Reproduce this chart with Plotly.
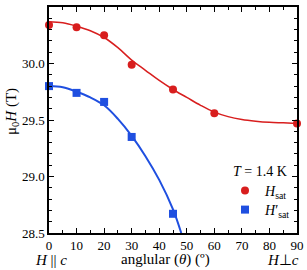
import plotly.graph_objects as go

# Measured data points
theta_hsat = [0, 10, 20, 30, 45, 60, 90]
hsat = [30.34, 30.32, 30.25, 29.99, 29.77, 29.56, 29.47]

theta_hsat2 = [0, 10, 20, 30, 45]
hsat2 = [29.80, 29.74, 29.66, 29.35, 28.67]

# Fit curves
fit_theta_red = [0, 5, 10, 15, 20, 25, 30, 35, 40, 45, 50, 55, 60, 65, 70, 75, 80, 85, 90]
fit_red = [30.37, 30.36, 30.33, 30.29, 30.23, 30.14, 30.03, 29.94, 29.85, 29.77,
           29.70, 29.63, 29.57, 29.53, 29.505, 29.49, 29.48, 29.475, 29.47]

fit_theta_blue = [0, 5, 10, 15, 20, 25, 30, 35, 40, 45, 48]
fit_blue = [29.80, 29.79, 29.75, 29.70, 29.63, 29.51, 29.36, 29.18, 28.97, 28.71, 28.50]

x_tick_vals = [0, 10, 20, 30, 40, 50, 60, 70, 80, 90]
y_tick_vals = [28.5, 29.0, 29.5, 30.0, 30.5]
y_tick_text = ["28.5", "29.0", "29.5", "30.0", "30.5"]

RED = "#d81e1e"
BLUE = "#1f4fe0"
FONT = "Liberation Serif"

# plot area geometry (pixels) used to place annotations
L, R, T, B = 49, 10, 7, 37
W, H = 307, 270
PW, PH = W - L - R, H - T - B


def px(x):
    return (x - L) / PW


def py(y):
    return (H - B - y) / PH


fig = go.Figure()
fig.add_trace(go.Scatter(x=fit_theta_red, y=fit_red, mode="lines",
                         line=dict(color=RED, width=1.5, shape="spline"),
                         showlegend=False, hoverinfo="skip"))
fig.add_trace(go.Scatter(x=fit_theta_blue, y=fit_blue, mode="lines",
                         line=dict(color=BLUE, width=2, shape="spline"),
                         showlegend=False, hoverinfo="skip"))
fig.add_trace(go.Scatter(x=theta_hsat, y=hsat, mode="markers",
                         marker=dict(symbol="circle", size=8, color=RED),
                         name="<i>H</i><sub>sat</sub>", cliponaxis=False, legend="legend"))
fig.add_trace(go.Scatter(x=theta_hsat2, y=hsat2, mode="markers",
                         marker=dict(symbol="square", size=8, color=BLUE),
                         name="<i>H</i>′<sub>sat</sub>", cliponaxis=False, legend="legend2"))

axis_common = dict(
    showgrid=False, zeroline=False, showline=True, linecolor="black", linewidth=1.5,
    mirror="ticks", ticks="inside", ticklen=5, tickwidth=1.2, tickcolor="black",
    tickfont=dict(family=FONT, size=13, color="black"), automargin=False,
)

fig.update_xaxes(range=[0, 90], tickvals=x_tick_vals,
                 minor=dict(dtick=5, tick0=0, ticks="inside", ticklen=3, tickcolor="black", tickwidth=1.2),
                 **axis_common)
fig.update_yaxes(range=[28.5, 30.5], tickvals=y_tick_vals, ticktext=y_tick_text,
                 minor=dict(dtick=0.1, tick0=28.5, ticks="inside", ticklen=3, tickcolor="black", tickwidth=1.2),
                 **axis_common)

legend_common = dict(xanchor="left", yanchor="middle", font=dict(family=FONT, size=14),
                     bgcolor="rgba(0,0,0,0)", itemwidth=30)

fig.update_layout(
    width=W, height=H,
    margin=dict(l=L, r=R, t=T, b=B),
    paper_bgcolor="white", plot_bgcolor="white",
    font=dict(family=FONT, color="black", size=14),
    legend=dict(x=px(225), y=py(191), **legend_common),
    legend2=dict(x=px(225), y=py(210), **legend_common),
    annotations=[
        dict(text="<i>T</i> = 1.4 K", xref="paper", yref="paper",
             x=px(231), y=py(171), xanchor="left", yanchor="middle", showarrow=False,
             font=dict(family=FONT, size=14)),
        dict(text="μ<sub>0</sub><i>H</i> (T)", textangle=-90, xref="paper", yref="paper",
             x=px(12), y=py(112), xanchor="center", yanchor="middle", showarrow=False,
             font=dict(family=FONT, size=15)),
        dict(text="anglular (<i>θ</i>) (º)", xref="paper", yref="paper",
             x=px(165), y=py(259.5), xanchor="center", yanchor="middle", showarrow=False,
             font=dict(family=FONT, size=15)),
        dict(text="<i>H</i> || <i>c</i>", xref="paper", yref="paper",
             x=px(51), y=py(259.5), xanchor="center", yanchor="middle",
             showarrow=False, font=dict(family=FONT, size=15)),
        dict(text="<i>H</i>⊥<i>c</i>", xref="paper", yref="paper",
             x=px(301), y=py(259.5), xanchor="right", yanchor="middle",
             showarrow=False, font=dict(family=FONT, size=15)),
    ],
)

fig.write_html("out.html", config={"displayModeBar": False},
               post_script="document.body.style.margin='0';document.body.style.overflow='hidden';")
